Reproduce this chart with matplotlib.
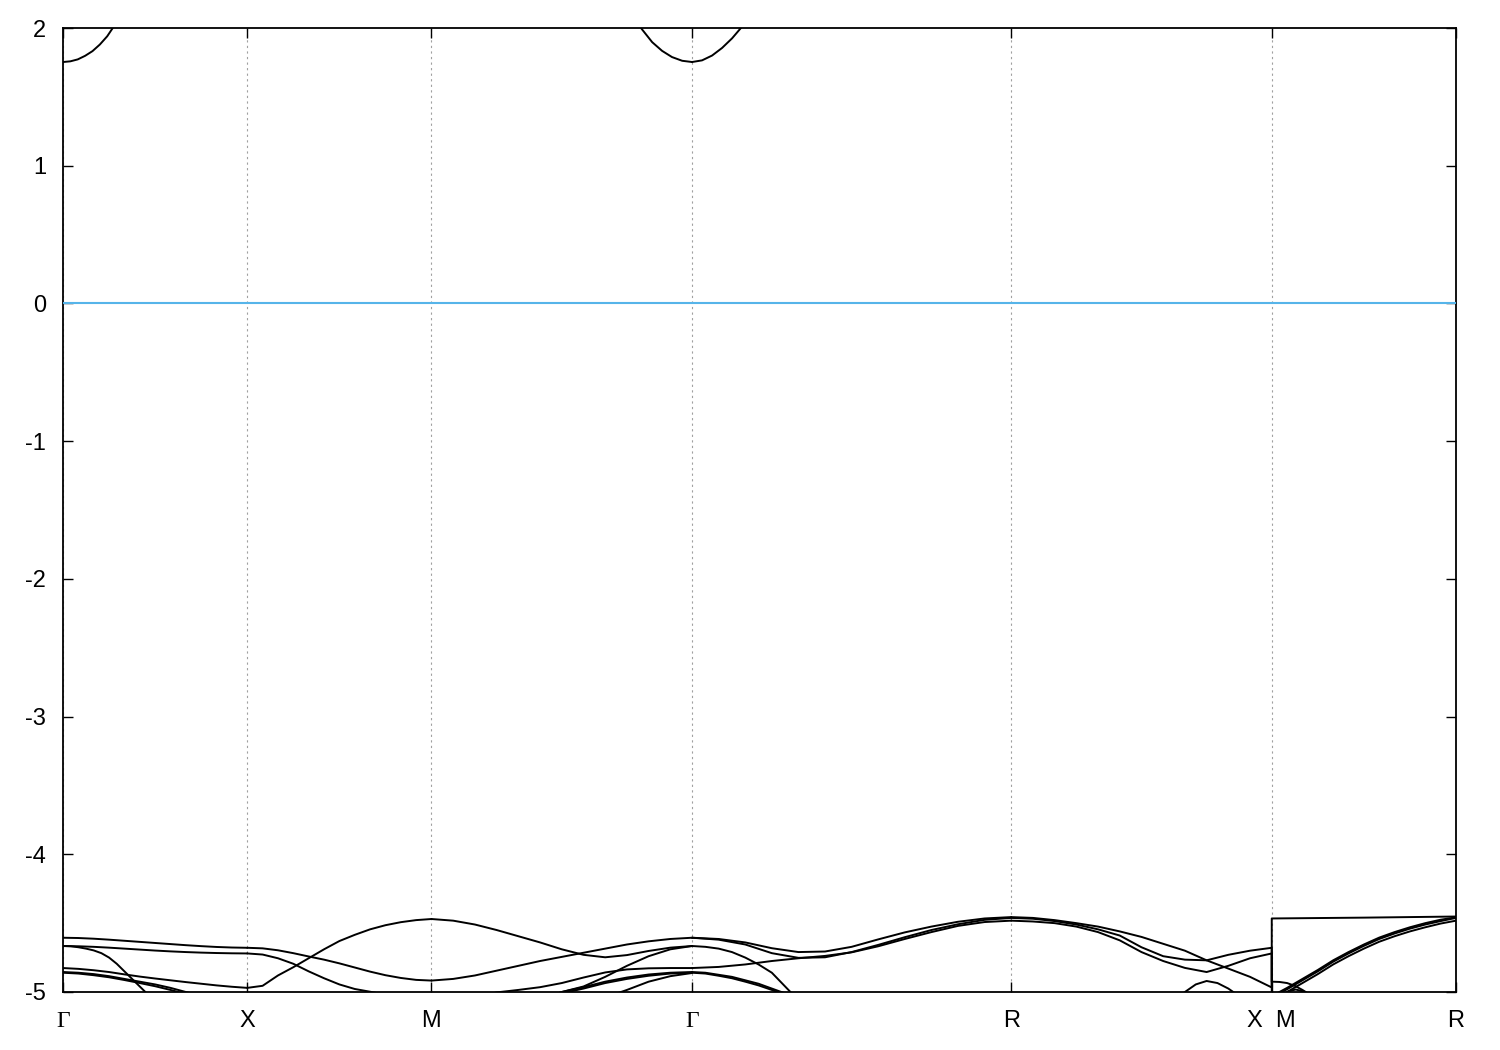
import numpy as np
import matplotlib
matplotlib.use('Agg')
import matplotlib.pyplot as plt

plt.rcParams['axes.unicode_minus'] = False
plt.rcParams['font.family'] = ['Liberation Sans', 'DejaVu Sans']

# ---------------- data ----------------
# cumulative k-path distance of high-symmetry points  Γ-X-M-Γ-R-X|M-R
k_nodes = [0.0, 0.5, 1.0, 1.70711, 2.57313, 3.28024, 3.78024]
k_labels = ['Γ', 'X', 'M', 'Γ', 'R', 'X  M', 'R']
fermi_level = 0.0
y_ticks = [-5, -4, -3, -2, -1, 0, 1, 2]

T12 = np.linspace(0, 1, 13)   # sampling positions along a segment
T24 = np.linspace(0, 1, 25)

# segment 0: Γ–X
gx_1 = [-4.606, -4.608, -4.613, -4.620, -4.628, -4.636, -4.644, -4.652, -4.660, -4.667, -4.673, -4.677, -4.679]
gx_2 = [-4.666, -4.668, -4.672, -4.678, -4.685, -4.692, -4.699, -4.705, -4.710, -4.714, -4.717, -4.719, -4.720]
gx_3 = [-4.666, -4.668, -4.675, -4.685, -4.698, -4.718, -4.750, -4.795, -4.850, -4.905, -4.960, -5.015, -5.070]
gx_4 = [-4.826, -4.832, -4.842, -4.855, -4.872, -4.888, -4.902, -4.915, -4.928, -4.940, -4.952, -4.962, -4.970]
gx_5 = [-4.855, -4.860, -4.870, -4.885, -4.905, -4.925, -4.945, -4.970, -5.000, -5.030]
gx_6 = [-4.860, -4.866, -4.878, -4.893, -4.913, -4.935, -4.958, -4.985, -5.015]
gx_top_t = [0, 0.04, 0.08, 0.12, 0.16, 0.20, 0.24, 0.28, 0.32]
gx_top = [1.753, 1.758, 1.772, 1.798, 1.832, 1.880, 1.940, 2.020, 2.110]

# segment 1: X–M
xm_1 = [-4.679, -4.683, -4.697, -4.718, -4.742, -4.765, -4.792, -4.822, -4.852, -4.878, -4.898, -4.912, -4.917]
xm_2 = [-4.720, -4.728, -4.755, -4.795, -4.850, -4.900, -4.945, -4.978, -4.998, -5.020]
xm_3 = [-4.970, -4.955, -4.880, -4.820, -4.755, -4.690, -4.630, -4.585, -4.545, -4.515, -4.493, -4.478, -4.470]

# segment 2: M–Γ
mg_1 = [-4.917, -4.905, -4.880, -4.845, -4.810, -4.775, -4.745, -4.715, -4.685, -4.655, -4.632, -4.615, -4.606]
mg_2 = [-4.470, -4.482, -4.510, -4.550, -4.595, -4.640, -4.690, -4.730, -4.748, -4.732, -4.702, -4.678, -4.666]
mg_3 = [-5.040, -5.003, -4.985, -4.965, -4.935, -4.895, -4.858, -4.836, -4.828, -4.826, -4.826]
mg_4 = [-5.060, -5.000, -4.960, -4.890, -4.810, -4.740, -4.690, -4.666]
mg_5 = [-5.050, -5.000, -4.965, -4.925, -4.895, -4.873, -4.860, -4.855]
mg_6 = [-5.060, -5.010, -4.975, -4.935, -4.905, -4.882, -4.866, -4.860]
mg_7 = [-5.040, -4.985, -4.925, -4.885, -4.862]
mg_top_t = [0.77, 0.808, 0.847, 0.885, 0.923, 0.962, 1.0]
mg_top = [2.090, 1.990, 1.897, 1.834, 1.789, 1.762, 1.753]

# segment 3: Γ–R
gr_1 = [-4.606, -4.615, -4.640, -4.682, -4.710, -4.706, -4.672, -4.618, -4.567, -4.525, -4.490, -4.466, -4.456]
gr_2 = [-4.606, -4.620, -4.655, -4.718, -4.752, -4.748, -4.710, -4.658, -4.602, -4.550, -4.508, -4.476, -4.462]
gr_3 = [-4.826, -4.818, -4.800, -4.775, -4.755, -4.738, -4.712, -4.668, -4.615, -4.565, -4.520, -4.492, -4.482]
gr_4 = [-4.666, -4.672, -4.685, -4.710, -4.750, -4.800, -4.860, -4.960, -5.060]
gr_5 = [-4.855, -4.860, -4.875, -4.890, -4.915, -4.940, -4.975, -5.010, -5.050]
gr_6 = [-4.860, -4.866, -4.882, -4.900, -4.925, -4.952, -4.985, -5.020, -5.060]
gr_top_t = [0, 0.0313, 0.0627, 0.094, 0.1254, 0.1567, 0.188]
gr_top = [1.753, 1.765, 1.800, 1.855, 1.925, 2.010, 2.110]

# segment 4: R–X
rx_1 = [-4.456, -4.462, -4.478, -4.500, -4.525, -4.560, -4.600, -4.650, -4.700, -4.770, -4.830, -4.890, -4.967]
rx_2 = [-4.462, -4.468, -4.485, -4.510, -4.545, -4.590, -4.675, -4.740, -4.765, -4.770, -4.730, -4.700, -4.679]
rx_3 = [-4.482, -4.488, -4.500, -4.525, -4.565, -4.625, -4.710, -4.775, -4.825, -4.855, -4.810, -4.755, -4.720]
rx_4 = [-5.060, -5.000, -4.945, -4.920, -4.935, -4.975, -5.030]

# segment 5: M–R
mr_1_t = [0, 0.25, 0.5, 0.75, 1.0]
mr_1 = [-4.466, -4.463, -4.460, -4.456, -4.452]
mr_2 = [-5.030, -4.970, -4.905, -4.840, -4.770, -4.710, -4.655, -4.605, -4.565, -4.530, -4.500, -4.475, -4.458]
mr_3 = [-5.040, -4.980, -4.915, -4.850, -4.780, -4.720, -4.665, -4.615, -4.575, -4.540, -4.510, -4.485, -4.462]
mr_4 = [-5.060, -5.000, -4.935, -4.870, -4.800, -4.740, -4.685, -4.635, -4.595, -4.560, -4.530, -4.503, -4.482]
mr_5 = [-4.925, -4.927, -4.935, -4.955, -4.985, -5.020]
mr_6_t = [0.05, 0.09, 0.13, 0.17, 0.21]
mr_6 = [-5.030, -4.995, -4.982, -4.995, -5.030]


def seg_k(i, t):
    t = np.asarray(t, dtype=float)
    return k_nodes[i] + t * (k_nodes[i + 1] - k_nodes[i])


# (segment index, sampling positions, energies)
pieces = [
    (0, T12, gx_1), (0, T12, gx_2), (0, T24[:len(gx_3)], gx_3), (0, T12, gx_4),
    (0, T12[:len(gx_5)], gx_5), (0, T12[:len(gx_6)], gx_6), (0, gx_top_t, gx_top),
    (1, T12, xm_1), (1, T12[:len(xm_2)], xm_2), (1, T12, xm_3),
    (2, T12, mg_1), (2, T12, mg_2), (2, T12[-len(mg_3):], mg_3), (2, T12[-len(mg_4):], mg_4),
    (2, T12[-len(mg_5):], mg_5), (2, T12[-len(mg_6):], mg_6), (2, T12[-len(mg_7):], mg_7),
    (2, mg_top_t, mg_top),
    (3, T12, gr_1), (3, T12, gr_2), (3, T12, gr_3), (3, T24[:len(gr_4)], gr_4),
    (3, T24[:len(gr_5)], gr_5), (3, T24[:len(gr_6)], gr_6), (3, gr_top_t, gr_top),
    (4, T24[15:15 + len(rx_4)], rx_4),
    (5, T12, mr_3), (5, T12, mr_4), (5, mr_6_t, mr_6),
]
# bands continued across the X|M jump (drawn as one line, as the original plot does)
joined = [
    ((4, T12, rx_1), (5, mr_1_t, mr_1)),
    ((4, T12, rx_2), (5, T24[:len(mr_5)], mr_5)),
    ((4, T12, rx_3), (5, T12, mr_2)),
]

# ---------------- figure ----------------
fig = plt.figure(figsize=(15, 10.5), dpi=100)
ax = fig.add_axes([63 / 1500, 1 - 992 / 1050, (1456 - 63) / 1500, (992 - 28) / 1050])

line_kw = dict(color='black', lw=1.4, solid_joinstyle='round', solid_capstyle='round')
for s, t, e in pieces:
    ax.plot(seg_k(s, t), e, **line_kw)
for (s1, t1, e1), (s2, t2, e2) in joined:
    ax.plot(np.concatenate([seg_k(s1, t1), seg_k(s2, t2)]),
            np.concatenate([e1, e2]), **line_kw)

ax.axhline(fermi_level, color='#56b4e9', lw=1.5, zorder=3)

ax.set_xlim(k_nodes[0], k_nodes[-1])
ax.set_ylim(-5, 2)
ax.set_xticks(k_nodes)
ax.set_xticklabels(k_labels)
ax.set_yticks(y_ticks)
ax.set_yticklabels([str(v) for v in y_ticks])

ax.grid(axis='x', color='#a0a0a0', linestyle=(0, (2, 3)), lw=0.8)
ax.set_axisbelow(True)
ax.tick_params(direction='in', length=7, width=1.0, top=True, right=True,
               labelsize=17, colors='black')
ax.tick_params(axis='y', pad=12)
ax.tick_params(axis='x', pad=25)
for lab in ax.get_xticklabels():
    lab.set_verticalalignment('baseline')
    if lab.get_text() == 'Γ':
        lab.set_fontfamily(['Liberation Serif', 'DejaVu Serif'])
for sp in ax.spines.values():
    sp.set_linewidth(1.3)
    sp.set_color('black')

fig.savefig('out.png', dpi=100, facecolor='white')
